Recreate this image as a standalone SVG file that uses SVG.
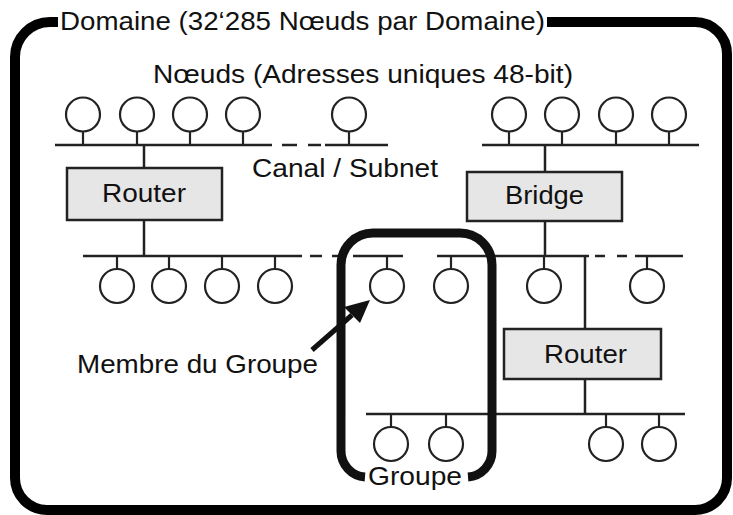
<svg xmlns="http://www.w3.org/2000/svg" width="733" height="515" viewBox="0 0 733 515">
<style>
text{font-family:"Liberation Sans",Arial,sans-serif;font-size:26.5px;fill:#111}
.bus{stroke:#222;stroke-width:2.5;fill:none}
.box{fill:#e6e6e6;stroke:#222;stroke-width:2.5}
.c{text-anchor:middle}
</style>
<defs>
<g id="nd"><line x1="0" y1="-13" x2="0" y2="0" stroke="#222" stroke-width="2.2"/><circle cx="0" cy="-30.5" r="17" fill="#fff" stroke="#222" stroke-width="2.2"/></g>
<g id="nu"><line x1="0" y1="0" x2="0" y2="13" stroke="#222" stroke-width="2.2"/><circle cx="0" cy="30" r="17" fill="#fff" stroke="#222" stroke-width="2.2"/></g>
</defs>
<g id="domaine">
<path d="M547 22 H695 A32 32 0 0 1 727 54 V478 A32 32 0 0 1 695 510 H47 A32 32 0 0 1 15 478 V57 A35 35 0 0 1 50 22 H58" fill="none" stroke="#000" stroke-width="10"/>
<text x="60" y="30" textLength="485" lengthAdjust="spacingAndGlyphs">Domaine (32‘285 Nœuds par Domaine)</text>
</g>
<text x="153" y="83" textLength="420" lengthAdjust="spacingAndGlyphs">Nœuds (Adresses uniques 48-bit)</text>
<text x="252" y="177" textLength="186" lengthAdjust="spacingAndGlyphs">Canal / Subnet</text>
<g id="connectors">
<path class="bus" d="M55 145 H272 M282 145 H297 M308 145 H321 M325 145 H388 M482 145 H699"/>
<path class="bus" d="M83 256 H302 M310 256 H322 M332 256 H345 M353 256 H403 M437 256 H589 M595 256 H605 M617 256 H627 M635 256 H683"/>
<path class="bus" d="M366 414 H685"/>
<path class="bus" d="M144 145 V168 M144 220 V256 M545 145 V172 M545 221 V256 M585 256 V329 M585 379 V414"/>
</g>
<g id="nodes-top">
<use href="#nd" x="83" y="145"/><use href="#nd" x="137" y="145"/><use href="#nd" x="190" y="145"/><use href="#nd" x="243" y="145"/><use href="#nd" x="349" y="145"/>
<use href="#nd" x="509" y="145"/><use href="#nd" x="562" y="145"/><use href="#nd" x="616" y="145"/><use href="#nd" x="669" y="145"/>
</g>
<g id="nodes-mid">
<use href="#nu" x="117" y="256"/><use href="#nu" x="169" y="256"/><use href="#nu" x="222" y="256"/><use href="#nu" x="275" y="256"/>
<use href="#nu" x="387" y="256"/><use href="#nu" x="451" y="256"/><use href="#nu" x="544" y="256"/><use href="#nu" x="647" y="256"/>
</g>
<g id="nodes-low">
<use href="#nu" x="391" y="414"/><use href="#nu" x="446" y="414"/><use href="#nu" x="606" y="414"/><use href="#nu" x="659" y="414"/>
</g>
<g id="router1"><rect class="box" x="67" y="168" width="155" height="52"/><text x="102" y="202" textLength="84" lengthAdjust="spacingAndGlyphs">Router</text></g>
<g id="bridge"><rect class="box" x="467" y="172" width="155" height="49"/><text x="505" y="204" textLength="79" lengthAdjust="spacingAndGlyphs">Bridge</text></g>
<g id="router2"><rect class="box" x="504" y="329" width="157" height="50"/><text x="544" y="363" textLength="83" lengthAdjust="spacingAndGlyphs">Router</text></g>
<g id="groupe">
<path d="M365 477 A26 26 0 0 1 341 451 V265 A32 32 0 0 1 373 233 H460 A32 32 0 0 1 492 265 V451 A26 26 0 0 1 468 477" fill="none" stroke="#111" stroke-width="9"/>
<text x="368" y="485" textLength="94" lengthAdjust="spacingAndGlyphs">Groupe</text>
</g>
<g id="membre">
<text x="77" y="373" textLength="241" lengthAdjust="spacingAndGlyphs">Membre du Groupe</text>
<line x1="312" y1="350" x2="352" y2="315" stroke="#111" stroke-width="5"/>
<polygon points="370,300 344,307 360,323" fill="#111"/>
</g>
</svg>
